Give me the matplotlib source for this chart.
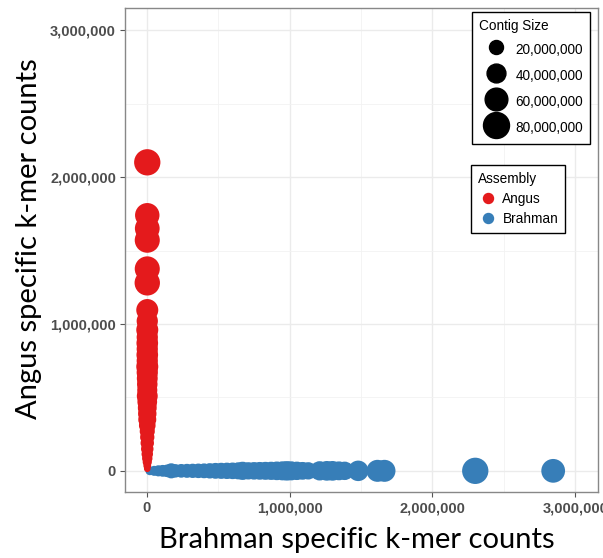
import numpy as np
import matplotlib
matplotlib.use("Agg")
import matplotlib.pyplot as plt
from matplotlib.lines import Line2D
from matplotlib.ticker import FuncFormatter, MultipleLocator

# Angus contigs: brahman count (x), angus count (y, millions), contig size (Mb)
angus_y = [2.10, 1.74, 1.65, 1.57, 1.375, 1.28, 1.095, 1.02, 0.96, 0.91,
           0.87, 0.83, 0.79, 0.75, 0.71, 0.67, 0.63, 0.59, 0.55, 0.51, 0.47,
           0.43, 0.39, 0.35, 0.31, 0.27, 0.23, 0.19, 0.15, 0.115, 0.085,
           0.06, 0.035, 0.015]
angus_size = [82, 70, 72, 74, 74, 76, 56, 52, 56, 52, 54, 52, 54, 52, 56,
              52, 50, 48, 46, 50, 44, 40, 38, 36, 30, 24, 21, 18, 15, 12, 9,
              6, 3, 1]
angus_x = [0.002] * len(angus_y)

# Brahman contigs: brahman count (x, millions), angus count (y), size (Mb)
brahman_x = [0.02, 0.05, 0.08, 0.11, 0.14, 0.17, 0.20, 0.24, 0.28, 0.32,
             0.36, 0.40, 0.44, 0.48, 0.52, 0.56, 0.60, 0.64, 0.67, 0.71,
             0.75, 0.79, 0.83, 0.87, 0.91, 0.95, 0.98, 1.01, 1.05, 1.09,
             1.13, 1.21, 1.26, 1.30, 1.345, 1.385, 1.48, 1.615, 1.664, 2.30,
             2.846]
brahman_size = [5, 8, 11, 13, 15, 24, 18, 19, 20, 21, 22, 23, 25, 27, 28, 29,
                30, 32, 37, 33, 34, 35, 36, 37, 39, 41, 43, 41, 38, 35, 33,
                42, 44, 44, 40, 38, 48, 56, 56, 82, 66]
brahman_y = [0.001] * len(brahman_x)

legend_sizes = [20, 40, 60, 80]
legend_labels = ["20,000,000", "40,000,000", "60,000,000", "80,000,000"]

red = "#E41A1C"
blue = "#377EB8"


def diam_pt(size_mb):
    # area linear in contig size, diameter in points (dpi 100)
    return np.sqrt(36 + 8 * np.asarray(size_mb, dtype=float)) * 0.72


fig = plt.figure(figsize=(6.03, 5.58), dpi=100)
ax = fig.add_axes([125 / 603, 66 / 558, 473 / 603, 484 / 558])

ax.scatter(np.array(brahman_x) * 1e6, np.array(brahman_y) * 1e6,
           s=diam_pt(brahman_size) ** 2, c=blue, linewidths=0, zorder=3)
ax.scatter(np.array(angus_x) * 1e6, np.array(angus_y) * 1e6,
           s=diam_pt(angus_size) ** 2, c=red, linewidths=0, zorder=4)

ax.set_xlim(-154000, 3160000)
ax.set_ylim(-143000, 3150000)

fmt = FuncFormatter(lambda v, p: f"{int(round(v)):,}")
for axis in (ax.xaxis, ax.yaxis):
    axis.set_major_locator(MultipleLocator(1000000))
    axis.set_minor_locator(MultipleLocator(500000))
    axis.set_major_formatter(fmt)
ax.grid(which="major", color="#EBEBEB", lw=1.0, zorder=0)
ax.grid(which="minor", color="#F2F2F2", lw=0.6, zorder=0)
ax.tick_params(which="major", length=3.5, width=0.8, color="#555555",
               labelsize=10.5, labelcolor="#4D4D4D", pad=3)
ax.tick_params(which="minor", length=0)
for lab in ax.get_xticklabels() + ax.get_yticklabels():
    lab.set_fontweight("bold")
    lab.set_fontfamily("Liberation Sans")
for sp in ax.spines.values():
    sp.set_color("#888888")
    sp.set_linewidth(1.0)
ax.set_axisbelow(True)

fig.text(0.591, 0.032, "Brahman specific k-mer counts", ha="center",
         va="center", fontsize=21, family=["Lato", "DejaVu Sans"])
fig.text(0.048, 0.572, "Angus specific k-mer counts", ha="center",
         va="center", rotation=90, fontsize=21, family=["Lato", "DejaVu Sans"])

font = {"family": "Liberation Sans", "size": 9.8}

size_handles = [Line2D([], [], marker="o", ls="", color="black",
                       markersize=diam_pt(v)) for v in legend_sizes]
leg1 = fig.legend(size_handles, legend_labels, title="Contig Size",
                  loc="upper right", bbox_to_anchor=(590 / 603, 546 / 558),
                  borderaxespad=0, fancybox=False, framealpha=1,
                  edgecolor="black", prop=font, title_fontproperties=font,
                  labelspacing=0.5, handleheight=1.8, handlelength=2.5,
                  handletextpad=0.2, borderpad=0.5)
leg1._legend_box.align = "left"
leg1.get_frame().set_linewidth(1.0)

asm_handles = [Line2D([], [], marker="o", ls="", color=c, markersize=7.2)
               for c in (red, blue)]
leg2 = fig.legend(asm_handles, ["Angus", "Brahman"], title="Assembly",
                  loc="upper right", bbox_to_anchor=(565 / 603, 393 / 558),
                  borderaxespad=0, fancybox=False, framealpha=1,
                  edgecolor="black", prop=font, title_fontproperties=font,
                  labelspacing=0.45, handleheight=1.0, handlelength=1.5,
                  handletextpad=0.28, borderpad=0.5)
leg2._legend_box.align = "left"
leg2.get_frame().set_linewidth(1.0)

fig.savefig("out.png", dpi=100)
